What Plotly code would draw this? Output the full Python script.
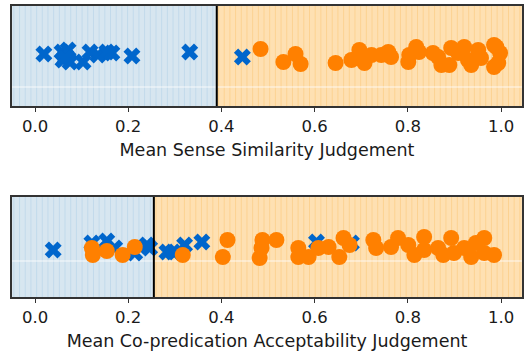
import numpy as np
import plotly.graph_objects as go
from plotly.subplots import make_subplots

# ---- data ----
top_blue_x = [0.019, 0.058, 0.060, 0.066, 0.071, 0.075, 0.064, 0.103, 0.118, 0.135, 0.154, 0.165, 0.208, 0.332, 0.445]
top_blue_y = [52, 54, 46, 50, 56, 44, 48, 44, 54, 51, 54, 53, 50, 54, 49]
top_orange_x = [0.484, 0.533, 0.559, 0.570, 0.645, 0.679, 0.696, 0.707, 0.722, 0.743, 0.758, 0.764,
                0.801, 0.803, 0.818, 0.824, 0.854, 0.865, 0.872, 0.889, 0.893, 0.908, 0.921, 0.929,
                0.936, 0.951, 0.957, 0.985, 0.994, 0.998, 0.990, 0.985]
top_orange_y = [57, 44, 52, 42, 43, 46, 56, 43, 51, 51, 54, 49,
                44, 51, 59, 54, 53, 49, 41, 41, 58, 53, 59, 46,
                41, 56, 48, 61, 43, 53, 59, 39]
bot_blue_x = [0.039, 0.122, 0.154, 0.171, 0.214, 0.240, 0.246, 0.283, 0.296, 0.321, 0.358, 0.604, 0.679]
bot_blue_y = [47, 54, 56, 49, 44, 52, 49, 45, 45, 52, 55, 55, 54]
bot_orange_x = [0.122, 0.124, 0.154, 0.188, 0.214, 0.317, 0.413, 0.403, 0.482, 0.488, 0.486, 0.518,
                0.565, 0.565, 0.587, 0.608, 0.630, 0.653, 0.662, 0.675, 0.726, 0.732, 0.764, 0.779,
                0.801, 0.814, 0.835, 0.835, 0.865, 0.876, 0.893, 0.899, 0.921, 0.936, 0.946, 0.964,
                0.964, 0.985]
bot_orange_y = [49, 42, 46, 42, 50, 42, 57, 40, 39, 57, 49, 57,
                49, 40, 40, 49, 50, 40, 59, 52, 57, 49, 50, 59,
                52, 42, 60, 47, 49, 42, 59, 44, 49, 40, 54, 59,
                44, 42]
thresholds = [0.39, 0.255]
grid_y = [19, 36]
x_titles = ["Mean Sense Similarity Judgement", "Mean Co-predication Acceptability Judgement"]
tick_vals = [0.0, 0.2, 0.4, 0.6, 0.8, 1.0]
tick_text = ["0.0", "0.2", "0.4", "0.6", "0.8", "1.0"]

XR = [-0.0494, 1.045]
BLUE = "#0066cc"
ORANGE = "#ff8000"
BG_BLUE = "#d7e6f0"
BG_ORANGE = "#fee0b2"
ST_BLUE = "#c2daeb"
ST_ORANGE = "#fcd292"

fig = make_subplots(rows=2, cols=1)

panels = [(top_blue_x, top_blue_y, top_orange_x, top_orange_y),
          (bot_blue_x, bot_blue_y, bot_orange_x, bot_orange_y)]

shapes = []
step = 0.0122
for i, (bx, by, ox, oy) in enumerate(panels):
    r = i + 1
    xref = "x" if r == 1 else "x2"
    yref = "y" if r == 1 else "y2"
    th = thresholds[i]
    shapes.append(dict(type="rect", xref=xref, yref=yref, x0=XR[0], x1=th, y0=0, y1=100,
                       fillcolor=BG_BLUE, line_width=0, layer="below"))
    shapes.append(dict(type="rect", xref=xref, yref=yref, x0=th, x1=XR[1], y0=0, y1=100,
                       fillcolor=BG_ORANGE, line_width=0, layer="below"))
    xs = np.arange(XR[0] + 0.004, XR[1], step)
    left = " ".join(f"M {x:.4f} 0 L {x:.4f} 100" for x in xs if x < th - 0.002)
    right = " ".join(f"M {x:.4f} 0 L {x:.4f} 100" for x in xs if x > th + 0.002)
    shapes.append(dict(type="path", xref=xref, yref=yref, path=left,
                       line=dict(color=ST_BLUE, width=1), layer="below"))
    shapes.append(dict(type="path", xref=xref, yref=yref, path=right,
                       line=dict(color=ST_ORANGE, width=1), layer="below"))
    shapes.append(dict(type="line", xref=xref, yref=yref, x0=XR[0], x1=XR[1], y0=grid_y[i], y1=grid_y[i],
                       line=dict(color="rgba(255,255,255,0.8)", width=1), layer="below"))
    shapes.append(dict(type="line", xref=xref, yref=yref, x0=th, x1=th, y0=0, y1=100,
                       line=dict(color="black", width=2), layer="above"))

    fig.add_trace(go.Scatter(x=bx, y=by, mode="markers",
                             marker=dict(symbol="x", size=15, color=BLUE, line_width=0),
                             showlegend=False, hoverinfo="skip"), row=r, col=1)
    fig.add_trace(go.Scatter(x=ox, y=oy, mode="markers",
                             marker=dict(symbol="circle", size=16, color=ORANGE, line_width=0),
                             showlegend=False, hoverinfo="skip"), row=r, col=1)

    fig.update_xaxes(range=XR, tickvals=tick_vals, ticktext=tick_text, ticks="outside",
                     ticklen=4, tickwidth=1, tickcolor="#333", showgrid=False, zeroline=False,
                     showline=True, mirror=True, linecolor="#333", linewidth=1.5,
                     tickfont=dict(family="DejaVu Sans", size=16.5, color="#1a1a1a"),
                     title=dict(text=x_titles[i], standoff=9,
                                font=dict(family="DejaVu Sans", size=17.5, color="#1a1a1a")),
                     row=r, col=1)
    fig.update_yaxes(range=[0, 100], showticklabels=False, ticks="", showgrid=False, zeroline=False,
                     showline=True, mirror=True, linecolor="#333", linewidth=1.5, row=r, col=1)

dx = [12 / 524, 522 / 524]
fig.update_layout(
    width=524, height=356, margin=dict(l=0, r=0, t=0, b=0),
    paper_bgcolor="white", plot_bgcolor="white", shapes=shapes,
    xaxis=dict(domain=dx), xaxis2=dict(domain=dx),
    yaxis=dict(domain=[1 - 106 / 356, 1 - 6 / 356]),
    yaxis2=dict(domain=[1 - 297 / 356, 1 - 197 / 356]),
)
fig.write_html("out.html", config={"displayModeBar": False},
               post_script="document.body.style.margin='0';document.body.style.overflow='hidden';")
